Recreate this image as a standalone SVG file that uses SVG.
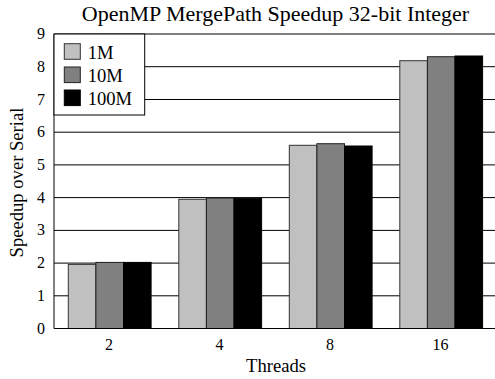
<svg xmlns="http://www.w3.org/2000/svg" width="495" height="379" viewBox="0 0 495 379">
<style>
text{font-family:"Liberation Serif","Times New Roman",serif;fill:#000}
.t{font-size:18.6px}
.ttl{font-size:22px}
.tick{font-size:16px}
.grid{stroke:#000;stroke-width:1}
.b1{fill:#c0c0c0;stroke:#333;stroke-width:1}
.b2{fill:#808080;stroke:#222;stroke-width:1}
.b3{fill:#000;stroke:#000;stroke-width:1}
</style>
<rect width="495" height="379" fill="#fff"/>
<text x="275.5" y="21" class="ttl" text-anchor="middle">OpenMP MergePath Speedup 32-bit Integer</text>
<g id="gridlines">
<line class="grid" x1="54" y1="295.8" x2="495" y2="295.8"/>
<line class="grid" x1="54" y1="263.1" x2="495" y2="263.1"/>
<line class="grid" x1="54" y1="230.4" x2="495" y2="230.4"/>
<line class="grid" x1="54" y1="197.6" x2="495" y2="197.6"/>
<line class="grid" x1="54" y1="164.9" x2="495" y2="164.9"/>
<line class="grid" x1="54" y1="132.2" x2="495" y2="132.2"/>
<line class="grid" x1="54" y1="99.5" x2="495" y2="99.5"/>
<line class="grid" x1="54" y1="66.7" x2="495" y2="66.7"/>
</g>
<g id="axes">
<line x1="54" y1="34" x2="495" y2="34" stroke="#000"/>
<line x1="54" y1="34" x2="54" y2="328.5" stroke="#000"/>
</g>
<g id="ylabels" text-anchor="end">
<text x="45" y="333.5" class="tick">0</text>
<text x="45" y="300.8" class="tick">1</text>
<text x="45" y="268.1" class="tick">2</text>
<text x="45" y="235.4" class="tick">3</text>
<text x="45" y="202.6" class="tick">4</text>
<text x="45" y="169.9" class="tick">5</text>
<text x="45" y="137.2" class="tick">6</text>
<text x="45" y="104.5" class="tick">7</text>
<text x="45" y="71.7" class="tick">8</text>
<text x="45" y="39" class="tick">9</text>
</g>
<g id="bars">
<g id="g2">
<rect class="b1" x="68.3" y="264.4" width="27.6" height="64.1"/>
<rect class="b2" x="95.9" y="262.4" width="27.6" height="66.1"/>
<rect class="b3" x="123.5" y="262.4" width="27.6" height="66.1"/>
</g>
<g id="g4">
<rect class="b1" x="178.8" y="199.3" width="27.6" height="129.2"/>
<rect class="b2" x="206.4" y="198" width="27.6" height="130.5"/>
<rect class="b3" x="234" y="198.3" width="27.6" height="130.2"/>
</g>
<g id="g8">
<rect class="b1" x="289.3" y="145.3" width="27.6" height="183.2"/>
<rect class="b2" x="316.9" y="143.7" width="27.6" height="184.8"/>
<rect class="b3" x="344.5" y="146" width="27.6" height="182.5"/>
</g>
<g id="g16">
<rect class="b1" x="399.8" y="60.7" width="27.6" height="267.8"/>
<rect class="b2" x="427.4" y="56.7" width="27.6" height="271.8"/>
<rect class="b3" x="455" y="56" width="27.6" height="272.5"/>
</g>
</g>
<line x1="54" y1="328.5" x2="495" y2="328.5" stroke="#000"/>
<g id="xlabels" text-anchor="middle">
<text x="109" y="349.5" class="tick">2</text>
<text x="219.5" y="349.5" class="tick">4</text>
<text x="330" y="349.5" class="tick">8</text>
<text x="440.5" y="349.5" class="tick">16</text>
</g>
<text x="276" y="371.5" class="t" text-anchor="middle">Threads</text>
<text transform="translate(23,182.5) rotate(-90)" class="t" text-anchor="middle">Speedup over Serial</text>
<g id="legend">
<rect x="54" y="34" width="90.7" height="81" fill="#fff" stroke="#000"/>
<rect class="b1" x="64.3" y="43.7" width="16" height="15.6"/>
<rect class="b2" x="64.3" y="67" width="16" height="15.6"/>
<rect class="b3" x="64.3" y="90" width="16" height="15.6"/>
<text x="87.7" y="59" class="t">1M</text>
<text x="87.7" y="82.3" class="t">10M</text>
<text x="87.7" y="105.3" class="t">100M</text>
</g>
</svg>
